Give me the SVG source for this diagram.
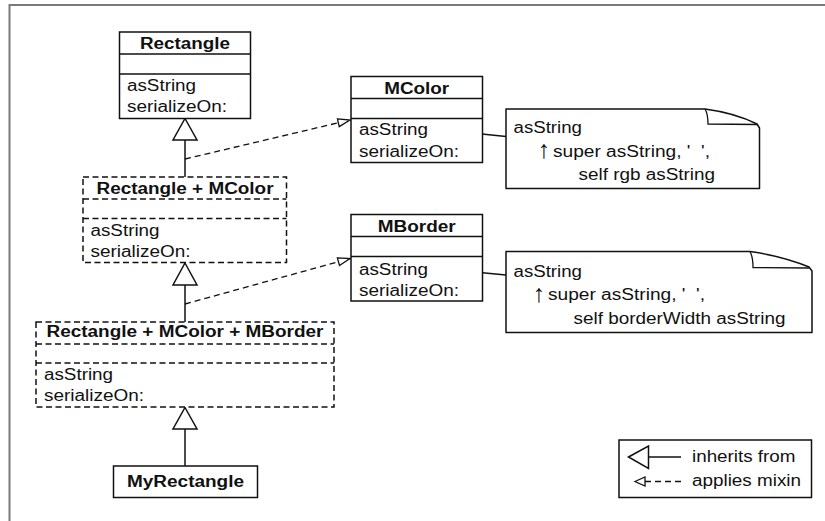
<svg xmlns="http://www.w3.org/2000/svg" width="825" height="521" viewBox="0 0 825 521">
<defs>
<style>
.t{font-family:"Liberation Sans",Arial,sans-serif;font-size:16px;fill:#111}
.b{font-weight:bold;text-anchor:middle}
.ar{font-family:"Liberation Sans","DejaVu Sans",sans-serif;font-size:25px;fill:#111}
.box{fill:#fff;stroke:#111;stroke-width:1.5}
.dbox{fill:#fff;stroke:#111;stroke-width:1.5;stroke-dasharray:6 3.5}
.sep{stroke:#111;stroke-width:1.5}
.dsep{stroke:#111;stroke-width:1.5;stroke-dasharray:6 3.5}
.inh{stroke:#111;stroke-width:1.5;fill:none}
.mix{stroke:#111;stroke-width:1.3;fill:none;stroke-dasharray:6 4}
.tri{fill:#fff;stroke:#111;stroke-width:1.5}
.ln{stroke:#111;stroke-width:1.3;fill:none}
.note{fill:#fff;stroke:#111;stroke-width:1.5;stroke-linejoin:round}
</style>
<marker id="mixhead" viewBox="0 0 14 10" refX="13" refY="5" markerWidth="14" markerHeight="10" markerUnits="userSpaceOnUse" orient="auto">
<path d="M1,1 L13,5 L1,9 Z" fill="#fff" stroke="#111" stroke-width="1.3"/>
</marker>
</defs>
<rect width="825" height="521" fill="#fff"/>
<path d="M9.5,521 L9.5,5 L825,5" fill="none" stroke="#7a7a7a" stroke-width="2"/>

<g id="connectors">
<line class="inh" x1="185" y1="140" x2="185" y2="177"/>
<path class="tri" d="M185,118.5 L197,140 L173,140 Z"/>
<line class="inh" x1="185" y1="285" x2="185" y2="322"/>
<path class="tri" d="M185,263 L197,285 L173,285 Z"/>
<line class="inh" x1="185" y1="429" x2="185" y2="466"/>
<path class="tri" d="M185,407.5 L197,429 L173,429 Z"/>
<line class="mix" x1="185" y1="159" x2="350" y2="120" marker-end="url(#mixhead)"/>
<line class="mix" x1="185" y1="304" x2="350" y2="258.5" marker-end="url(#mixhead)"/>
<line class="ln" x1="443" y1="130" x2="506" y2="136.5"/>
<line class="ln" x1="443" y1="269" x2="506" y2="275"/>
</g>

<g id="Rectangle">
<rect class="box" x="119.5" y="32" width="131" height="86.5"/>
<line class="sep" x1="119.5" y1="54" x2="250.5" y2="54"/>
<line class="sep" x1="119.5" y1="74" x2="250.5" y2="74"/>
<text class="t b" x="185" y="48.5" textLength="90" lengthAdjust="spacingAndGlyphs">Rectangle</text>
<text class="t" x="127" y="90.5" textLength="69" lengthAdjust="spacingAndGlyphs">asString</text>
<text class="t" x="127" y="111.5" textLength="100" lengthAdjust="spacingAndGlyphs">serializeOn:</text>
</g>

<g id="RectangleMColor">
<rect class="dbox" x="83" y="177" width="203.5" height="85.5"/>
<line class="dsep" x1="83" y1="199" x2="286.5" y2="199"/>
<line class="dsep" x1="83" y1="218.5" x2="286.5" y2="218.5"/>
<text class="t b" x="185" y="193.5" textLength="177" lengthAdjust="spacingAndGlyphs">Rectangle + MColor</text>
<text class="t" x="90.5" y="235.5" textLength="69" lengthAdjust="spacingAndGlyphs">asString</text>
<text class="t" x="90.5" y="257" textLength="100" lengthAdjust="spacingAndGlyphs">serializeOn:</text>
</g>

<g id="RectangleMColorMBorder">
<rect class="dbox" x="36" y="322" width="298" height="85"/>
<line class="dsep" x1="36" y1="344" x2="334" y2="344"/>
<line class="dsep" x1="36" y1="363" x2="334" y2="363"/>
<text class="t b" x="185" y="337" textLength="277" lengthAdjust="spacingAndGlyphs">Rectangle + MColor + MBorder</text>
<text class="t" x="44" y="379.5" textLength="69" lengthAdjust="spacingAndGlyphs">asString</text>
<text class="t" x="44" y="401" textLength="100" lengthAdjust="spacingAndGlyphs">serializeOn:</text>
</g>

<g id="MyRectangle">
<rect class="box" x="113.5" y="466" width="144" height="31.5"/>
<text class="t b" x="185.5" y="487" textLength="117" lengthAdjust="spacingAndGlyphs">MyRectangle</text>
</g>

<g id="MColor">
<rect class="box" x="351" y="76.5" width="131.5" height="86"/>
<line class="sep" x1="351" y1="98.5" x2="482.5" y2="98.5"/>
<line class="sep" x1="351" y1="118.5" x2="482.5" y2="118.5"/>
<text class="t b" x="416.7" y="93.5" textLength="65" lengthAdjust="spacingAndGlyphs">MColor</text>
<text class="t" x="359" y="135" textLength="69" lengthAdjust="spacingAndGlyphs">asString</text>
<text class="t" x="359" y="156.5" textLength="100" lengthAdjust="spacingAndGlyphs">serializeOn:</text>
</g>

<g id="MBorder">
<rect class="box" x="351" y="214.5" width="131.5" height="86.5"/>
<line class="sep" x1="351" y1="236.5" x2="482.5" y2="236.5"/>
<line class="sep" x1="351" y1="256.5" x2="482.5" y2="256.5"/>
<text class="t b" x="416.7" y="231.5" textLength="78" lengthAdjust="spacingAndGlyphs">MBorder</text>
<text class="t" x="359" y="275" textLength="69" lengthAdjust="spacingAndGlyphs">asString</text>
<text class="t" x="359" y="296" textLength="100" lengthAdjust="spacingAndGlyphs">serializeOn:</text>
</g>

<g id="note1">
<path class="note" d="M506,109 L705,109 Q735,113 757,124 L759.5,128 L759.5,188.5 L506,188.5 Z"/>
<path class="ln" d="M705,109 Q708,114 708,124 L757,124.5" stroke-width="1.5"/>
<text class="t" x="513.5" y="133" textLength="68.5" lengthAdjust="spacingAndGlyphs">asString</text>
<text class="ar" x="537.5" y="158">↑</text>
<text class="t" x="553" y="156.5" textLength="157" lengthAdjust="spacingAndGlyphs" xml:space="preserve">super asString, '  ',</text>
<text class="t" x="578.5" y="180" textLength="136.5" lengthAdjust="spacingAndGlyphs">self rgb asString</text>
</g>

<g id="note2">
<path class="note" d="M506,251.5 L750,251.5 Q782,256 809,267 L812,271 L812,332.5 L506,332.5 Z"/>
<path class="ln" d="M750,251.5 Q753,257 753,267.5 L809,268" stroke-width="1.5"/>
<text class="t" x="513.5" y="276.5" textLength="68.5" lengthAdjust="spacingAndGlyphs">asString</text>
<text class="ar" x="532.5" y="301.5">↑</text>
<text class="t" x="548" y="300" textLength="157" lengthAdjust="spacingAndGlyphs" xml:space="preserve">super asString, '  ',</text>
<text class="t" x="573.5" y="323.5" textLength="212" lengthAdjust="spacingAndGlyphs">self borderWidth asString</text>
</g>

<g id="legend">
<rect class="box" x="619" y="440" width="192.5" height="57.5"/>
<path class="tri" d="M628.5,457 L648.5,446 L648.5,468.5 Z"/>
<line class="inh" x1="648.5" y1="457" x2="681" y2="457"/>
<path d="M635,481.5 L645,477 L645,486 Z" fill="#fff" stroke="#111" stroke-width="1.3"/>
<line class="mix" x1="645" y1="481.5" x2="681" y2="481.5" stroke-dasharray="0 5 5 6"/>
<text class="t" x="692" y="462" textLength="103.5" lengthAdjust="spacingAndGlyphs">inherits from</text>
<text class="t" x="692" y="485.5" textLength="109" lengthAdjust="spacingAndGlyphs">applies mixin</text>
</g>
</svg>
